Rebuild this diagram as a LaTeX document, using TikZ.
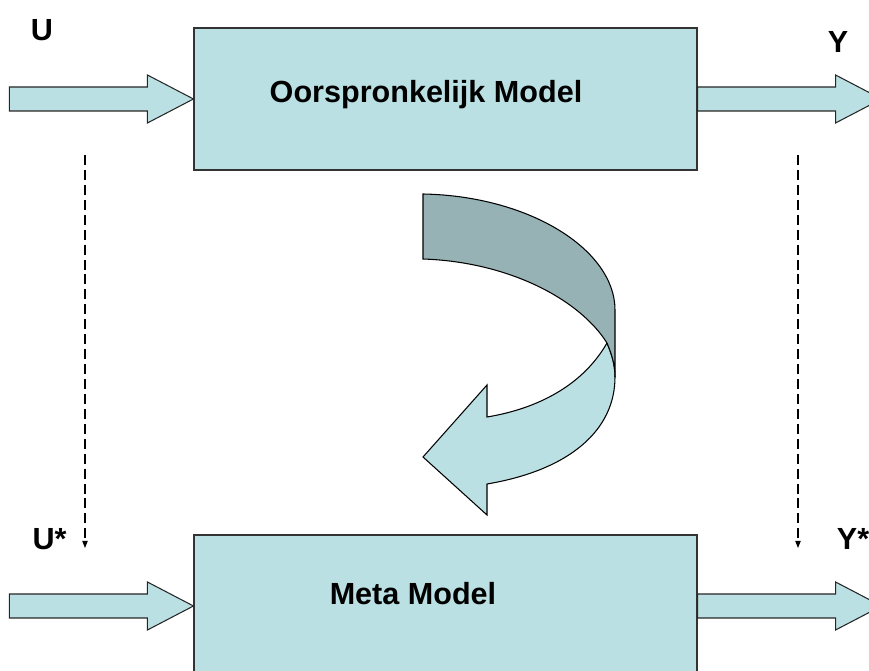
\documentclass[tikz,border=0pt]{standalone}
\usepackage{fontspec}
\setmainfont{Liberation Sans}
\usetikzlibrary{arrows.meta,calc}
\definecolor{boxblue}{RGB}{187,224,227}
\definecolor{bandgray}{RGB}{150,178,181}

% fat block arrow ending with its tip at #1
\newcommand{\fatarrow}[1]{%
	\draw[blockarrow] (#1) -- ++(-46,-24) -- ++(0,12) -- ++(-138,0) -- ++(0,24) -- ++(138,0) -- ++(0,12) -- cycle;}

\begin{document}
\begin{tikzpicture}[x=0.02cm, y=-0.02cm,
	model/.style={draw=black!80, line width=0.7pt, fill=boxblue, minimum width=10.06cm, minimum height=2.84cm, inner sep=0pt},
	blockarrow/.style={draw=black!85, line width=0.6pt, fill=boxblue},
	lbl/.style={font=\fontsize{17.4}{20}\selectfont\bfseries, inner sep=0pt, anchor=base},
	link/.style={line width=0.6pt, dash pattern=on 5.7pt off 2.8pt, -{Triangle[length=4pt,width=3pt]}}]
	\useasboundingbox (0,0) rectangle (869,671);
	% the two models
	\node[model] (orig) at (445.5,99) {};
	\node[model] (meta) at (445.5,606) {};
	\node[lbl] (origtxt) at (426,103) {Oorspronkelijk Model};
	\node[lbl] (metatxt) at (413,605) {Meta Model};
	% inputs and outputs
	\fatarrow{orig.west}
	\fatarrow{$(orig.east)+(184,0)$}
	\fatarrow{meta.west}
	\fatarrow{$(meta.east)+(184,0)$}
	\node[lbl] (u) at (42,41) {U};
	\node[lbl] (y) at (838,53) {Y};
	\node[lbl] (ustar) at (49.5,550) {U*};
	\node[lbl] (ystar) at (853,550) {Y*};
	% dashed links
	\coordinate (utop) at (85,155);
	\coordinate (ubot) at (85,548);
	\coordinate (ytop) at (798,155);
	\coordinate (ybot) at (798,548);
	\draw[link] (utop) -- (ubot);
	\draw[link] (ytop) -- (ybot);
	% curved arrow, front part
	\draw[line width=0.6pt, fill=boxblue] (607,343) .. controls (580,390) and (530,410) .. (487,417)
		-- (487,385) -- (423,457) -- (487,515) -- (487,484)
		.. controls (570,470) and (615,430) .. (615,377)
		.. controls (615,365) and (612,355) .. (607,343) -- cycle;
	% curved arrow, back part
	\draw[line width=0.6pt, fill=bandgray] (423,194) .. controls (530,196) and (615,250) .. (615,310)
		-- (615,377) .. controls (615,365) and (612,355) .. (607,343)
		.. controls (580,300) and (510,262) .. (423,259) -- cycle;
\end{tikzpicture}
\end{document}
